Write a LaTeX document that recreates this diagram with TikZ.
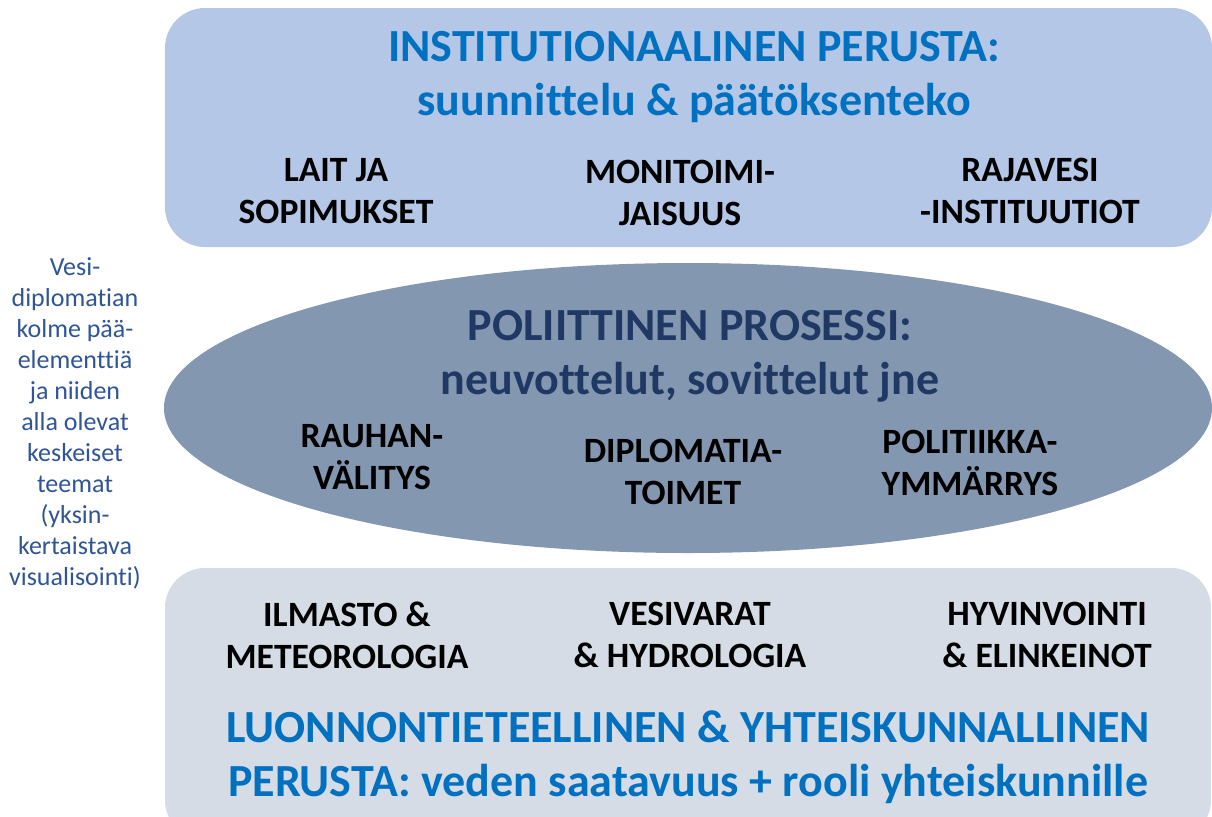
\documentclass[tikz,border=0pt]{standalone}
\usepackage{fontspec}
\setmainfont[Ligatures=NoCommon]{Carlito}
\usepackage{xcolor}
\usetikzlibrary{positioning}

\definecolor{instfill}{HTML}{B4C7E7}
\definecolor{polfill}{HTML}{8497B0}
\definecolor{basefill}{HTML}{D6DCE5}
\definecolor{headblue}{HTML}{0070C0}
\definecolor{headnavy}{HTML}{203864}
\definecolor{sideblue}{HTML}{2F5597}

\tikzset{
  head/.style={font=\fontsize{23}{27}\selectfont\bfseries, align=center, inner sep=0pt},
  theme/.style={font=\fontsize{17.8}{21}\selectfont\bfseries, align=center, inner sep=0pt, text=black},
  side/.style={font=\fontsize{13}{15.5}\selectfont, align=center, inner sep=0pt, text=sideblue}
}

\begin{document}
\begin{tikzpicture}[x=0.5pt, y=-0.5pt]
  \useasboundingbox (0,0) rectangle (1212,816);
  % three layers
  \fill[instfill, rounded corners=20pt] (165,8) rectangle (1212,247);
  \fill[polfill] (688,408) ellipse (524 and 145);
  \fill[basefill, rounded corners=20pt] (165,568) rectangle (1211,840);
  % institutional layer
  \node[head, text=headblue] (inst) at (694,77) {INSTITUTIONAALINEN PERUSTA:\\suunnittelu \& päätöksenteko};
  \node[theme] (lait) at (336,191) {LAIT JA\\SOPIMUKSET};
  \node[theme] (moni) at (680,193) {MONITOIMI-\\JAISUUS};
  \node[theme] (raja) at (1030,191) {RAJAVESI\\-INSTITUUTIOT};
  % political layer
  \node[head, text=headnavy] (pol) at (690,356) {POLIITTINEN PROSESSI:\\neuvottelut, sovittelut jne};
  \node[theme] (rauha) at (372,457) {RAUHAN-\\VÄLITYS};
  \node[theme] (dipl) at (683,472) {DIPLOMATIA-\\TOIMET};
  \node[theme] (polit) at (970,463) {POLITIIKKA-\\YMMÄRRYS};
  % natural and social layer
  \node[theme] (ilma) at (347,635) {ILMASTO \&\\METEOROLOGIA};
  \node[theme] (vesi) at (690,635) {VESIVARAT\\\& HYDROLOGIA};
  \node[theme] (hyvi) at (1047,635) {HYVINVOINTI\\\& ELINKEINOT};
  \node[head, text=headblue] (luon) at (688,757) {LUONNONTIETEELLINEN \& YHTEISKUNNALLINEN\\PERUSTA: veden saatavuus + rooli yhteiskunnille};
  % side note
  \node[side] (note) at (75,423) {Vesi-\\diplomatian\\kolme pää-\\elementtiä\\ja niiden\\alla olevat\\keskeiset\\teemat\\(yksin-\\kertaistava\\visualisointi)};
\end{tikzpicture}
\end{document}
